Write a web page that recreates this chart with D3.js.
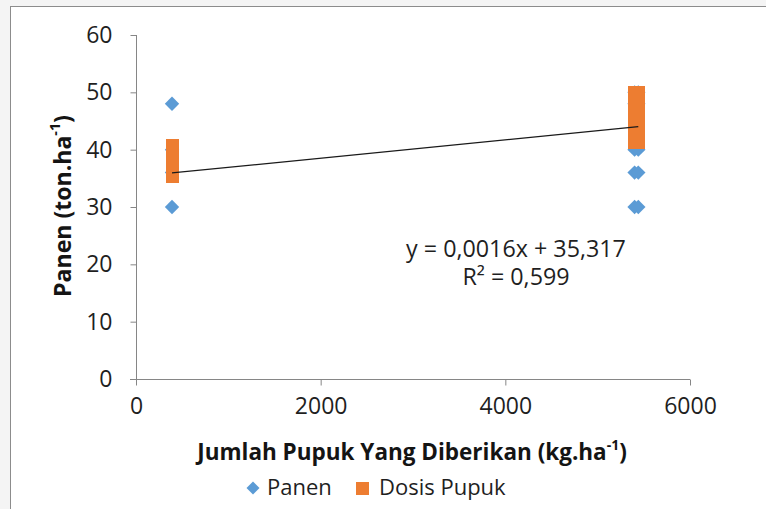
<!DOCTYPE html>
<html>
<head>
<meta charset="utf-8">
<script src="https://cdn.jsdelivr.net/npm/d3@7"></script>
<style>
  html, body { margin: 0; padding: 0; background: #f4f4f4; }
  svg { display: block; }
</style>
</head>
<body>
<svg id="chart" width="766" height="509"></svg>
<script>
// Panen (harvest) observations
const panenX = [390, 390, 390, 390, 5400, 5440, 5400, 5440, 5400, 5440, 5400, 5440, 5400, 5440];
const panenY = [48, 40, 36, 30, 50, 50, 48, 48, 40, 40, 36, 36, 30, 30];
// Dosis Pupuk (fertilizer dose) markers
const dosisX = [390, 390, 390, 390, 390, 390, 5400, 5440, 5400, 5440, 5400, 5440, 5400, 5440, 5400, 5440, 5400, 5440];
const dosisY = [35.4, 36.5, 37.5, 38.5, 39.5, 40.7, 41.3, 41.3, 43, 43, 44.5, 44.5, 46, 46, 47.8, 47.8, 50, 50];
// Linear trend line: y = 0,0016x + 35,317
const trendSlope = 0.0016;
const trendIntercept = 35.317;
const trendRange = [390, 5440];
const trendLabels = ["y = 0,0016x + 35,317", "R² = 0,599"];
// Axis ticks
const xTicks = [0, 2000, 4000, 6000];
const yTicks = [0, 10, 20, 30, 40, 50, 60];
const seriesNames = ["Panen", "Dosis Pupuk"];

const blue = "#5B9BD5", orange = "#ED7D31", axisColor = "#868686";
const font = "'Open Sans', 'Noto Sans', sans-serif";

const svg = d3.select("#chart");

// outer chart frame
svg.append("rect").attr("x", 10.5).attr("y", 6.5).attr("width", 800).attr("height", 600)
  .attr("fill", "#ffffff").attr("stroke", "#8c8c8c").attr("stroke-width", 1);

const x = d3.scaleLinear().domain([0, 6000]).range([136, 690]);
const y = d3.scaleLinear().domain([0, 60]).range([379, 35]);

// axes
const xAxis = svg.append("g").attr("transform", "translate(0,379.5)")
  .call(d3.axisBottom(x).tickValues(xTicks).tickSize(6).tickPadding(8).tickFormat(d3.format("d")));
const yAxis = svg.append("g").attr("transform", "translate(136.5,0)")
  .call(d3.axisLeft(y).tickValues(yTicks).tickSize(6).tickPadding(18).tickFormat(d3.format("d")));
[xAxis, yAxis].forEach(g => {
  g.select(".domain").attr("stroke", axisColor).attr("d", null);
  g.selectAll(".tick line").attr("stroke", axisColor);
  g.selectAll(".tick text").attr("fill", "#1f1f1f").attr("font-family", font).attr("font-size", 23);
});
// axis lines
svg.append("line").attr("x1", 136.5).attr("x2", 136.5).attr("y1", y(60)).attr("y2", y(0) + 6)
  .attr("stroke", axisColor);
svg.append("line").attr("x1", 130).attr("x2", x(6000)).attr("y1", 379.5).attr("y2", 379.5)
  .attr("stroke", axisColor);
xAxis.selectAll(".tick text").attr("dy", "0.9em");

// diamond symbol type (square rotated 45°)
const diamond = {
  draw(ctx, size) {
    const r = Math.sqrt(size / 2);
    ctx.moveTo(0, -r); ctx.lineTo(r, 0); ctx.lineTo(0, r); ctx.lineTo(-r, 0); ctx.closePath();
  }
};

const panen = panenX.map((v, i) => ({ x: v, y: panenY[i] }));
const dosis = dosisX.map((v, i) => ({ x: v, y: dosisY[i] }));

svg.append("g").selectAll("path").data(panen).join("path")
  .attr("transform", d => `translate(${x(d.x)},${y(d.y)})`)
  .attr("d", d3.symbol(diamond, 2 * 7.2 * 7.2))
  .attr("fill", blue);

svg.append("g").attr("shape-rendering", "crispEdges")
  .selectAll("path").data(dosis).join("path")
  .attr("transform", d => `translate(${x(d.x)},${y(d.y)})`)
  .attr("d", d3.symbol(d3.symbolSquare, 13 * 13))
  .attr("fill", orange);

// trend line
const trendLine = d3.line().x(d => x(d)).y(d => y(trendSlope * d + trendIntercept));
svg.append("path").datum(trendRange).attr("d", trendLine)
  .attr("fill", "none").attr("stroke", "#1a1a1a").attr("stroke-width", 1.3);

function fitWidth(sel, w) {
  const len = sel.node().getComputedTextLength();
  const fs = parseFloat(sel.attr("font-size"));
  sel.attr("font-size", fs * w / len);
}

// equation labels
const eq = svg.append("g").selectAll("text").data(trendLabels).join("text")
  .attr("x", 516).attr("y", (d, i) => 257 + i * 28)
  .attr("text-anchor", "middle").attr("font-family", font).attr("font-size", 22)
  .attr("fill", "#1f1f1f").text(d => d);
fitWidth(d3.select(eq.nodes()[0]), 220);
d3.select(eq.nodes()[1]).attr("font-size", d3.select(eq.nodes()[0]).attr("font-size"));

// axis titles
const xTitle = svg.append("text").attr("x", 412).attr("y", 460).attr("text-anchor", "middle")
  .attr("font-family", font).attr("font-weight", "bold").attr("font-size", 21).attr("fill", "#141414");
xTitle.append("tspan").text("Jumlah Pupuk Yang Diberikan (kg.ha");
xTitle.append("tspan").attr("font-size", "0.62em").attr("dy", "-0.75em").text("-1");
xTitle.append("tspan").attr("dy", "0.465em").text(")");
fitWidth(xTitle, 430);

const yTitle = svg.append("text").attr("transform", "translate(71,206) rotate(-90)")
  .attr("text-anchor", "middle").attr("font-family", font).attr("font-weight", "bold")
  .attr("font-size", 21).attr("fill", "#141414");
yTitle.append("tspan").text("Panen (ton.ha");
yTitle.append("tspan").attr("font-size", "0.62em").attr("dy", "-0.75em").text("-1");
yTitle.append("tspan").attr("dy", "0.465em").text(")");
fitWidth(yTitle, 182);

// legend
const legend = svg.append("g");
legend.append("path").attr("transform", "translate(253,488)")
  .attr("d", d3.symbol(diamond, 2 * 6.5 * 6.5)).attr("fill", blue);
legend.append("text").attr("x", 267).attr("y", 495).attr("font-family", font).attr("font-size", 22)
  .attr("fill", "#1f1f1f").text(seriesNames[0]);
legend.append("path").attr("transform", "translate(362.5,488.5)")
  .attr("d", d3.symbol(d3.symbolSquare, 13 * 13)).attr("fill", orange);
legend.append("text").attr("x", 379).attr("y", 495).attr("font-family", font).attr("font-size", 22)
  .attr("fill", "#1f1f1f").text(seriesNames[1]);
</script>
</body>
</html>
